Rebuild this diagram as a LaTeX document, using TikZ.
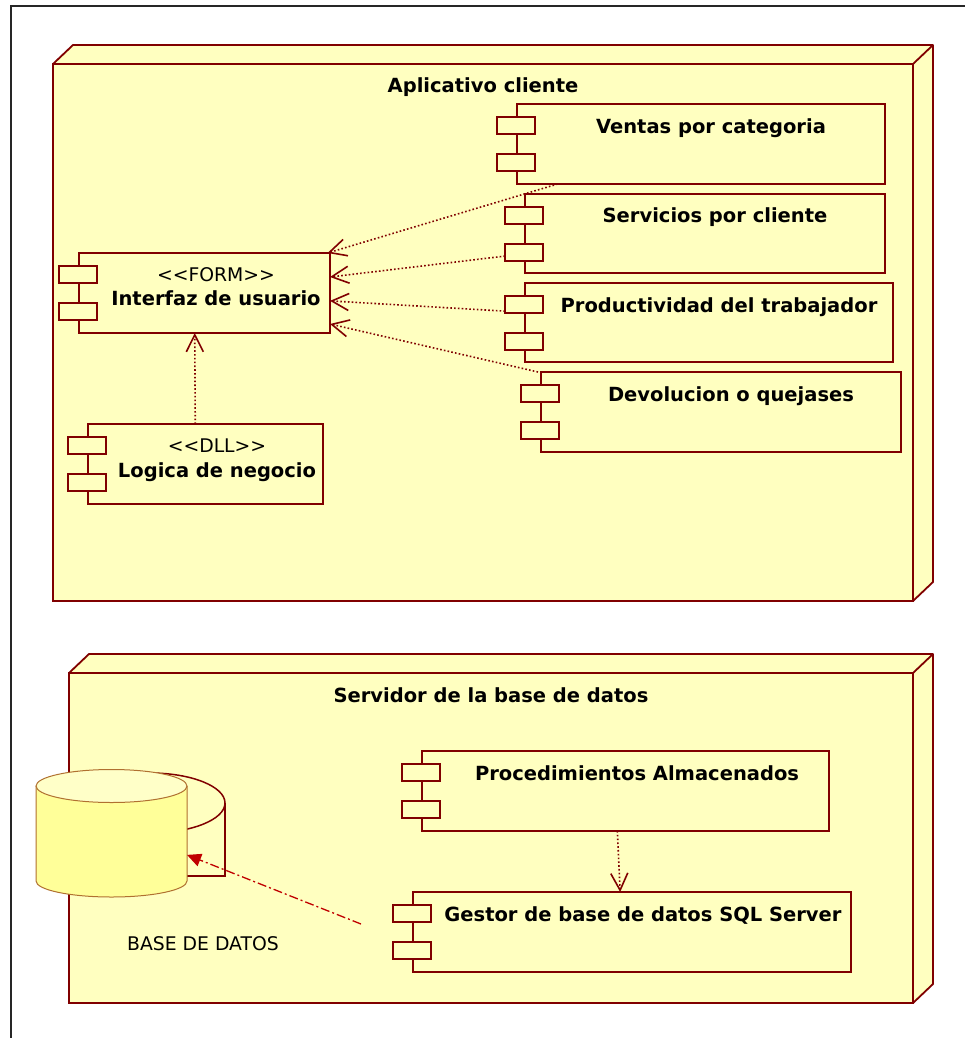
\documentclass[tikz,border=0pt]{standalone}
\usepackage{fontspec}
\setmainfont{DejaVu Sans}
\usetikzlibrary{arrows.meta,calc}

\definecolor{umlred}{RGB}{128,0,0}
\definecolor{umlfill}{RGB}{255,255,192}
\definecolor{dbbody}{RGB}{255,255,153}
\definecolor{dbtop}{RGB}{255,255,200}
\definecolor{dbline}{RGB}{176,112,48}
\definecolor{tracered}{RGB}{192,0,0}

\tikzset{
  compframe/.style={rectangle, draw=none, inner sep=0pt, outer sep=0pt},
  compline/.style={draw=umlred, fill=umlfill, line width=1.8pt},
  umlnode/.style={rectangle, draw=umlred, fill=umlfill, line width=1.8pt, inner sep=0pt, outer sep=0pt},
  nodeline/.style={draw=umlred, fill=umlfill, line width=1.8pt, line join=round},
  nametext/.style={inner sep=0pt, anchor=base, font=\fontsize{19.5pt}{23pt}\selectfont\bfseries},
  stereotext/.style={inner sep=0pt, anchor=base, font=\fontsize{18.8pt}{22pt}\selectfont},
  dependency/.style={draw=umlred, line width=1.6pt, dash pattern=on 1.6pt off 2.2pt,
    -{Straight Barb[length=17pt, width=17pt]}},
  dbtrace/.style={draw=tracered, line width=1.3pt, dash pattern=on 9pt off 3pt on 2pt off 3pt,
    -{Triangle[length=14pt, width=13pt, fill=tracered]}},
}

% UML component: invisible frame node spanning ports and body, then body and two ports
\newcommand{\umlcomponent}[5]{% name, port-left x, top y, right x, bottom y
  \pgfmathsetmacro\compW{#4-#2}%
  \pgfmathsetmacro\compH{#5-#3}%
  \pgfmathsetmacro\compX{(#2+#4)/2}%
  \pgfmathsetmacro\compY{(#3+#5)/2}%
  \node[compframe, minimum width=\compW pt, minimum height=\compH pt] (#1) at (\compX,\compY) {};
  \draw[compline] ($(#1.north west)+(20,0)$) rectangle (#1.south east);
  \draw[compline] ($(#1.north west)+(0,13)$) rectangle +(38,17);
  \draw[compline] ($(#1.north west)+(0,50)$) rectangle +(38,17);
}

% 3D depth of a UML deployment node (top and right faces)
\newcommand{\nodedepth}[1]{%
  \filldraw[nodeline] (#1.north west) -- ++(20,-19) -- ($(#1.north east)+(20,-19)$)
    -- ($(#1.south east)+(20,-19)$) -- (#1.south east) -- (#1.north east) -- cycle;
  \draw[nodeline] (#1.north east) -- ++(20,-19);
}

\begin{document}
\begin{tikzpicture}[x=1pt, y=-1pt]
  \useasboundingbox (0,0) rectangle (964,1038);
  \fill[white] (0,0) rectangle (964,1038);

  % outer frame
  \draw[black!85, line width=2pt] (972,6) -- (11,6) -- (11,1046);

  % ---------- Aplicativo cliente ----------
  \node[umlnode, minimum width=860pt, minimum height=537pt] (cliente) at (483,332.5) {};
  \nodedepth{cliente}
  \node[nametext] (cliente-title) at (483,93) {Aplicativo cliente};

  \umlcomponent{ventas}{497}{104}{885}{184}
  \node[nametext] (ventas-name) at (711,133) {Ventas por categoria};

  \umlcomponent{servicios}{505}{194}{885}{273}
  \node[nametext] (servicios-name) at (715,222) {Servicios por cliente};

  \umlcomponent{productividad}{505}{283}{893}{362}
  \node[nametext] (productividad-name) at (719,312) {Productividad del trabajador};

  \umlcomponent{devolucion}{521}{372}{901}{452}
  \node[nametext] (devolucion-name) at (731,401) {Devolucion o quejases};

  \umlcomponent{interfaz}{59}{253}{330}{333}
  \node[stereotext] (interfaz-st) at (216,281) {{<}{<}FORM{>}{>}};
  \node[nametext] (interfaz-name) at (216,305) {Interfaz de usuario};

  \umlcomponent{logica}{68}{424}{323}{504}
  \node[stereotext] (logica-st) at (217,452) {{<}{<}DLL{>}{>}};
  \node[nametext] (logica-name) at (217,477) {Logica de negocio};

  \draw[dependency] (ventas) -- (interfaz);
  \draw[dependency] (servicios) -- (interfaz);
  \draw[dependency] (productividad) -- (interfaz);
  \draw[dependency] (devolucion) -- (interfaz);
  \draw[dependency] (logica) -- (interfaz);

  % ---------- Servidor de la base de datos ----------
  \node[umlnode, minimum width=844pt, minimum height=330pt] (servidor) at (491,838) {};
  \nodedepth{servidor}
  \node[nametext] (servidor-title) at (491,702) {Servidor de la base de datos};

  \umlcomponent{procedimientos}{402}{751}{829}{831}
  \node[nametext] (procedimientos-name) at (637,780) {Procedimientos Almacenados};

  \umlcomponent{gestor}{393}{892}{851}{972}
  \node[nametext] (gestor-name) at (643,921) {Gestor de base de datos SQL Server};

  \draw[dependency] (procedimientos) -- (gestor);

  % database: rear outline
  \fill[umlfill] (150,803) ellipse [x radius=75pt, y radius=30pt];
  \fill[umlfill] (150,803) rectangle (225,876);
  \draw[umlred, line width=1.5pt] (150,803) ellipse [x radius=75pt, y radius=30pt];
  \draw[umlred, line width=1.5pt] (225,803) -- (225,876) -- (150,876);

  % database: front cylinder
  \fill[dbbody] (36,786) -- (36,881) arc [start angle=180, end angle=360, x radius=75.5pt, y radius=16pt] -- (187,786) -- cycle;
  \draw[dbline, line width=1pt] (36,786) -- (36,881) arc [start angle=180, end angle=360, x radius=75.5pt, y radius=16pt] -- (187,786);
  \filldraw[fill=dbtop, draw=dbline, line width=1pt] (111.5,786) ellipse [x radius=75.5pt, y radius=16.5pt];
  \node[compframe, minimum width=151pt, minimum height=112pt] (db) at (111.5,825) {};
  \node[stereotext] (db-label) at (203,950) {BASE DE DATOS};

  \coordinate (gestor-link) at (361,924);
  \draw[dbtrace] (gestor-link) -- (db);
\end{tikzpicture}
\end{document}
